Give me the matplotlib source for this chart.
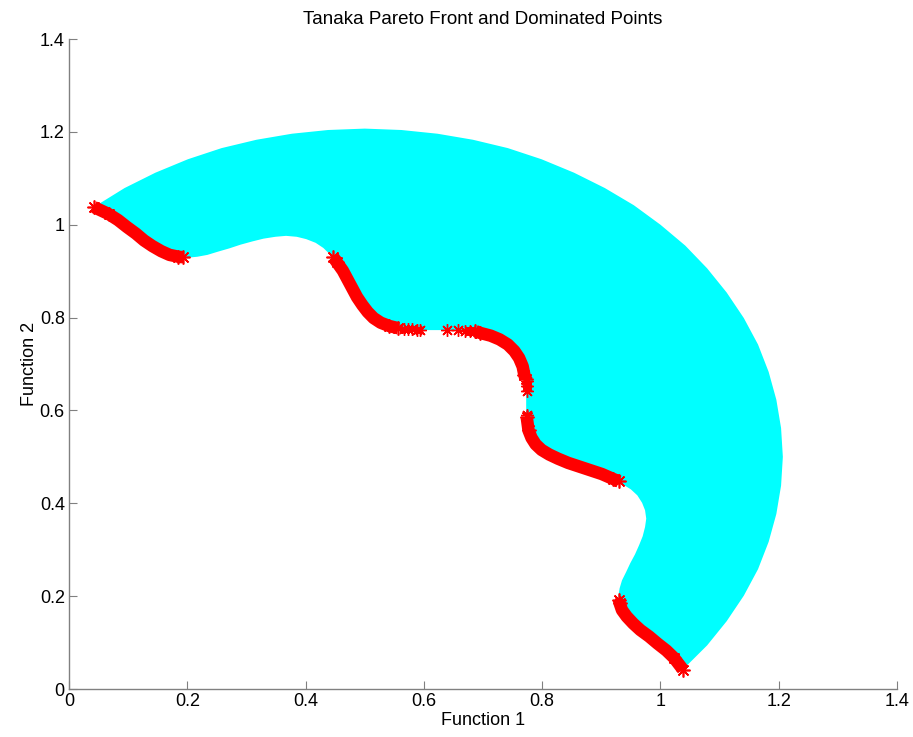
import numpy as np
import matplotlib
matplotlib.use("Agg")
import matplotlib.pyplot as plt

plt.rcParams["font.family"] = ["Liberation Sans", "DejaVu Sans"]

# feasible (dominated) region: outer arc, tip to tip, clockwise
outer_x = [0.042, 0.094, 0.146, 0.201, 0.258, 0.317, 0.377, 0.438, 0.500,
           0.562, 0.623, 0.683, 0.742, 0.799, 0.854, 0.906, 0.955, 1.000,
           1.042, 1.079, 1.112, 1.141, 1.165, 1.183, 1.196, 1.204, 1.207,
           1.204, 1.196, 1.183, 1.165, 1.141, 1.112, 1.079, 1.038]
outer_y = [1.038, 1.079, 1.112, 1.141, 1.165, 1.183, 1.196, 1.204, 1.207,
           1.204, 1.196, 1.183, 1.165, 1.141, 1.112, 1.079, 1.042, 1.000,
           0.955, 0.906, 0.854, 0.799, 0.742, 0.683, 0.623, 0.562, 0.500,
           0.438, 0.377, 0.317, 0.258, 0.201, 0.146, 0.094, 0.042]

# wavy inner boundary, top-left to bottom-right
inner_x = [0.067, 0.083, 0.098, 0.113, 0.127, 0.141, 0.156, 0.170, 0.185,
           0.201, 0.217, 0.234, 0.252, 0.271, 0.290, 0.310, 0.329, 0.349,
           0.367, 0.385, 0.401, 0.417, 0.430, 0.442, 0.453, 0.463, 0.471,
           0.479, 0.487, 0.496, 0.505, 0.515, 0.527, 0.541, 0.557, 0.574,
           0.593, 0.614, 0.634, 0.655, 0.676, 0.695, 0.713, 0.728, 0.742,
           0.753, 0.761, 0.767, 0.770, 0.772, 0.773, 0.773, 0.773, 0.774,
           0.777, 0.782, 0.789, 0.799, 0.812, 0.827, 0.844, 0.863, 0.882,
           0.901, 0.919, 0.935, 0.950, 0.961, 0.969, 0.974, 0.976, 0.974,
           0.970, 0.964, 0.957, 0.949, 0.942, 0.935, 0.931, 0.929, 0.931,
           0.935, 0.943, 0.954, 0.966, 0.981, 0.995, 1.010, 1.023]
inner_y = [1.023, 1.010, 0.995, 0.981, 0.966, 0.954, 0.943, 0.935, 0.931,
           0.929, 0.931, 0.935, 0.942, 0.949, 0.957, 0.964, 0.970, 0.974,
           0.976, 0.974, 0.969, 0.961, 0.950, 0.935, 0.919, 0.901, 0.882,
           0.863, 0.844, 0.827, 0.812, 0.799, 0.789, 0.782, 0.777, 0.774,
           0.773, 0.773, 0.773, 0.772, 0.770, 0.767, 0.761, 0.753, 0.742,
           0.728, 0.713, 0.695, 0.676, 0.655, 0.634, 0.614, 0.593, 0.574,
           0.557, 0.541, 0.527, 0.515, 0.505, 0.496, 0.487, 0.479, 0.471,
           0.463, 0.453, 0.442, 0.430, 0.417, 0.401, 0.385, 0.367, 0.349,
           0.329, 0.310, 0.290, 0.271, 0.252, 0.234, 0.217, 0.201, 0.185,
           0.170, 0.156, 0.141, 0.127, 0.113, 0.098, 0.083, 0.067]

# Pareto front, dense runs
front_segments = [
    ([0.042, 0.067, 0.083, 0.098, 0.113, 0.127, 0.141, 0.156, 0.170, 0.185,
      0.192],
     [1.038, 1.023, 1.010, 0.995, 0.981, 0.966, 0.954, 0.943, 0.935, 0.931,
      0.930]),
    ([0.447, 0.453, 0.463, 0.471, 0.479, 0.487, 0.496, 0.505, 0.515, 0.527,
      0.541, 0.557],
     [0.930, 0.919, 0.901, 0.882, 0.863, 0.844, 0.827, 0.812, 0.799, 0.789,
      0.782, 0.777]),
    ([0.687, 0.695, 0.713, 0.728, 0.742, 0.753, 0.761, 0.767, 0.770, 0.772],
     [0.771, 0.767, 0.761, 0.753, 0.742, 0.728, 0.713, 0.695, 0.676, 0.668]),
    ([0.774, 0.777, 0.782, 0.789, 0.799, 0.812, 0.827, 0.844, 0.863, 0.882,
      0.901, 0.919, 0.930],
     [0.585, 0.557, 0.541, 0.527, 0.515, 0.505, 0.496, 0.487, 0.479, 0.471,
      0.463, 0.453, 0.447]),
    ([0.930, 0.931, 0.935, 0.943, 0.954, 0.966, 0.981, 0.995, 1.010, 1.023,
      1.038],
     [0.192, 0.185, 0.170, 0.156, 0.141, 0.127, 0.113, 0.098, 0.083, 0.067,
      0.042]),
]

# isolated Pareto points in the sparse stretches
sparse_x = [0.566, 0.573, 0.580, 0.589, 0.594, 0.639, 0.658, 0.670, 0.678,
            0.774, 0.774, 0.774, 0.774]
sparse_y = [0.776, 0.775, 0.775, 0.774, 0.774, 0.773, 0.773, 0.772, 0.772,
            0.663, 0.652, 0.642, 0.590]

fig = plt.figure(figsize=(9.13, 7.37), dpi=100)
ax = fig.add_axes([69 / 913, 48 / 737, 828 / 913, 650 / 737])

poly_x = np.concatenate([outer_x, inner_x[::-1]])
poly_y = np.concatenate([outer_y, inner_y[::-1]])
ax.fill(poly_x, poly_y, color="#00ffff", lw=0, zorder=1)

star = (8, 2, 0)
for fx, fy in front_segments:
    ax.plot(fx, fy, "-", color="red", lw=9, solid_capstyle="butt",
            solid_joinstyle="round", zorder=2)
    ax.plot(fx, fy, ls="none", marker=star, ms=10, mew=1.2, color="red",
            markevery=[0, 1, -2, -1], zorder=3)
ax.plot(sparse_x, sparse_y, ls="none", marker=star, ms=9, mew=1.0,
        color="red", zorder=3)

ax.set_xlim(0, 1.4)
ax.set_ylim(0, 1.4)
ax.set_xticks(np.arange(0, 1.41, 0.2))
ax.set_yticks(np.arange(0, 1.41, 0.2))
ax.set_xticklabels(["0", "0.2", "0.4", "0.6", "0.8", "1", "1.2", "1.4"])
ax.set_yticklabels(["0", "0.2", "0.4", "0.6", "0.8", "1", "1.2", "1.4"])
for side in ("top", "right"):
    ax.spines[side].set_visible(False)
for side in ("left", "bottom"):
    ax.spines[side].set_color("#808080")
    ax.spines[side].set_linewidth(1.0)
ax.tick_params(direction="in", length=6, width=0.8, color="#808080",
               labelsize=13, pad=3)
ax.set_xlabel("Function 1", fontsize=13, labelpad=1)
ax.set_ylabel("Function 2", fontsize=13, labelpad=1)
ax.set_title("Tanaka Pareto Front and Dominated Points", fontsize=13.5,
             pad=11)

fig.savefig("out.png", dpi=100)
